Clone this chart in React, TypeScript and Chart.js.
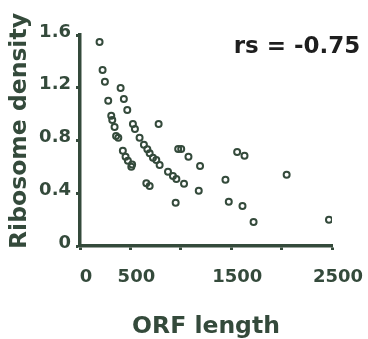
import React, { useEffect, useRef } from "react";
import { Chart, registerables } from "chart.js";

Chart.register(...registerables);

const orfLength = [
  194, 224, 247, 403, 435, 280, 469, 310, 320, 343, 525, 545, 780, 380, 358,
  591, 634, 668, 691, 724, 757, 790, 425, 452, 475, 509, 517, 974, 1004, 1076,
  1191, 873, 922, 956, 1032, 1178, 658, 691, 949, 1559, 1632, 1443, 2050, 1476,
  1612, 1722, 2470,
];
const ribosomeDensity = [
  1.547, 1.335, 1.246, 1.198, 1.115, 1.102, 1.031, 0.988, 0.955, 0.902, 0.925,
  0.887, 0.925, 0.821, 0.834, 0.821, 0.768, 0.733, 0.703, 0.67, 0.652, 0.614,
  0.723, 0.677, 0.647, 0.601, 0.618, 0.736, 0.736, 0.677, 0.607, 0.563, 0.531,
  0.508, 0.472, 0.419, 0.475, 0.455, 0.328, 0.713, 0.685, 0.503, 0.541, 0.336,
  0.303, 0.182, 0.199,
];
const xTicks = [0, 500, 1000, 1500, 2000, 2500];
const xTickLabels = [0, 500, 1500, 2500];
const yTickLabels = [0, 0.4, 0.8, 1.2, 1.6];
const xTitle = "ORF length";
const yTitle = "Ribosome density";
const annotationText = "rs = -0.75";

const AXIS = "#344a3b";
const FONT = "'DejaVu Sans', Verdana, sans-serif";

export default function App() {
  const ref = useRef<HTMLCanvasElement | null>(null);
  useEffect(() => {
    if (!ref.current) return;
    const points = orfLength.map((x, i) => ({ x, y: ribosomeDensity[i] }));
    const annot = {
      id: "annot",
      afterDraw(chart: any) {
        const ctx = chart.ctx;
        ctx.save();
        ctx.font = `bold 23px ${FONT}`;
        ctx.fillStyle = "#1e1e1e";
        ctx.textAlign = "center";
        ctx.textBaseline = "middle";
        ctx.fillText(annotationText, 297, 47);
        ctx.font = `bold 23.5px ${FONT}`;
        ctx.fillStyle = AXIS;
        ctx.translate(20, 131);
        ctx.rotate(-Math.PI / 2);
        ctx.fillText(yTitle, 0, 0);
        ctx.restore();
      },
    };
    const chart = new Chart(ref.current, {
      type: "scatter",
      data: {
        datasets: [
          {
            data: points,
            pointRadius: 3,
            pointBorderWidth: 2,
            pointBorderColor: AXIS,
            pointBackgroundColor: "rgba(0,0,0,0)",
          },
        ],
      },
      options: {
        animation: false,
        responsive: false,
        layout: { padding: { top: 35, right: 36, left: 0, bottom: 0 } },
        plugins: { legend: { display: false }, tooltip: { enabled: false } },
        scales: {
          x: {
            type: "linear",
            min: 0,
            max: 2500,
            afterFit: (s: any) => {
              s.height = 93;
              s.paddingLeft = 0;
              s.paddingRight = 0;
            },
            afterBuildTicks: (s: any) => {
              s.ticks = xTicks.map((v) => ({ value: v }));
            },
            border: { display: true, color: AXIS, width: 3.5 },
            grid: {
              display: true,
              drawOnChartArea: false,
              drawTicks: true,
              tickLength: 4,
              tickWidth: 3,
              tickColor: AXIS,
            },
            ticks: {
              autoSkip: false,
              maxRotation: 0,
              padding: 17,
              labelOffset: 6,
              color: AXIS,
              font: { family: FONT, size: 18, weight: "bold" },
              callback: (v: any) => (xTickLabels.includes(Number(v)) ? String(v) : ""),
            },
            title: {
              display: true,
              text: xTitle,
              color: AXIS,
              padding: { top: 0, bottom: -2 },
              font: { family: FONT, size: 23.5, weight: "bold" },
            },
          },
          y: {
            type: "linear",
            min: 0,
            max: 1.6,
            afterFit: (s: any) => {
              s.width = 80;
              s.paddingTop = 0;
              s.paddingBottom = 0;
            },
            afterBuildTicks: (s: any) => {
              s.ticks = yTickLabels.map((v) => ({ value: v }));
            },
            border: { display: true, color: AXIS, width: 3.5 },
            grid: {
              display: true,
              drawOnChartArea: false,
              drawTicks: true,
              tickLength: 4,
              tickWidth: 3,
              tickColor: AXIS,
            },
            ticks: {
              autoSkip: false,
              padding: 5,
              labelOffset: -3,
              color: AXIS,
              font: { family: FONT, size: 18, weight: "bold" },
              callback: (v: any) => String(Math.round(Number(v) * 10) / 10),
            },
            title: { display: false },
          },
        },
      },
      plugins: [annot],
    });
    return () => chart.destroy();
  }, []);
  return (
    <div style={{ position: "fixed", left: 0, top: 0, width: 368, height: 339, background: "#fff" }}>
      <canvas ref={ref} width={368} height={339} style={{ display: "block" }} />
    </div>
  );
}
